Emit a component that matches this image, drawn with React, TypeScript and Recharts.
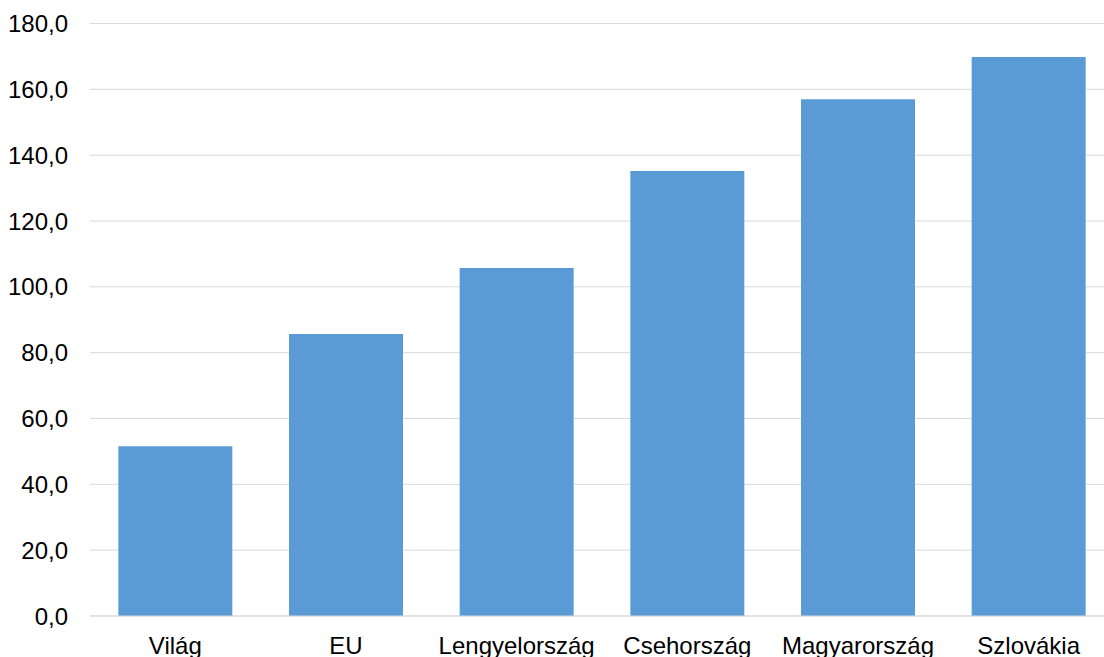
import React from "react";
import { BarChart, Bar, XAxis, YAxis, CartesianGrid } from "recharts";

const categories = ["Világ", "EU", "Lengyelország", "Csehország", "Magyarország", "Szlovákia"];
const values = [51.6, 85.7, 105.7, 135.2, 157.0, 169.8];
const yTicks = [0, 20, 40, 60, 80, 100, 120, 140, 160, 180];

const data = categories.map((name, i) => ({ name, value: values[i] }));

const fmt = (v: number) => v.toFixed(1).replace(".", ",");

export default function App() {
  return (
    <div style={{ position: "absolute", left: 0, top: 0, width: 1104, height: 657, background: "#fff", overflow: "hidden", fontFamily: "'Liberation Sans', Arial, sans-serif" }}>
      <BarChart
        width={1104}
        height={657}
        data={data}
        margin={{ top: 23.5, right: -10, bottom: 0, left: 0 }}
        barCategoryGap="16.6%"
        style={{ overflow: "hidden" }}
      >
        <CartesianGrid vertical={false} stroke="#d9d9d9" strokeWidth={1} />
        <XAxis
          dataKey="name"
          height={41}
          tickLine={false}
          tickSize={0}
          tickMargin={21}
          axisLine={{ stroke: "#d9d9d9" }}
          tick={{ fill: "#000", fontSize: 24, fontFamily: "'Liberation Sans', Arial, sans-serif" }}
          interval={0}
        />
        <YAxis
          width={90}
          domain={[0, 180]}
          ticks={yTicks}
          tickFormatter={fmt}
          axisLine={false}
          tickLine={false}
          tickSize={0}
          tickMargin={22}
          tick={{ fill: "#000", fontSize: 24, fontFamily: "'Liberation Sans', Arial, sans-serif" }}
        />
        <Bar dataKey="value" fill="#5B9BD5" isAnimationActive={false} />
      </BarChart>
    </div>
  );
}
